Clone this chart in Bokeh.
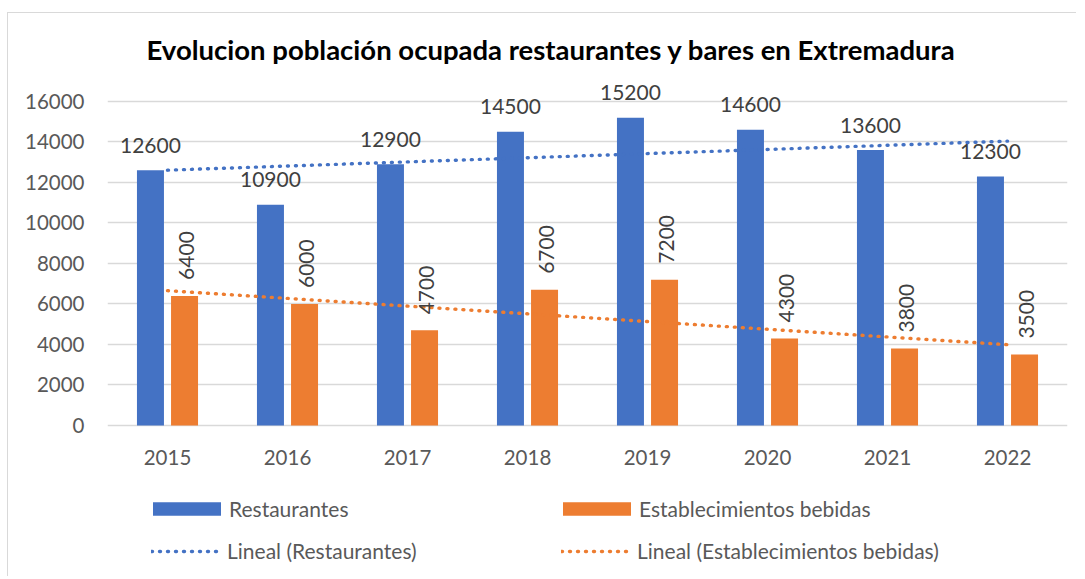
import numpy as np
from bokeh.plotting import figure
from bokeh.models import ColumnDataSource, FactorRange, Legend, LegendItem, FixedTicker
from bokeh.transform import dodge
from bokeh.core.properties import value
from bokeh.embed import file_html
from bokeh.resources import INLINE

years = ["2015", "2016", "2017", "2018", "2019", "2020", "2021", "2022"]
restaurantes = [12600, 10900, 12900, 14500, 15200, 14600, 13600, 12300]
bebidas = [6400, 6000, 4700, 6700, 7200, 4300, 3800, 3500]
y_ticks = [0, 2000, 4000, 6000, 8000, 10000, 12000, 14000, 16000]
title_text = "Evolucion población ocupada restaurantes y bares en Extremadura"
name_r = "Restaurantes"
name_b = "Establecimientos bebidas"

idx = np.arange(len(years))
tr = np.polyval(np.polyfit(idx, restaurantes, 1), idx)
tb = np.polyval(np.polyfit(idx, bebidas, 1), idx)

src = ColumnDataSource(dict(
    years=years, r=restaurantes, b=bebidas,
    rl=[str(v) for v in restaurantes], bl=[str(v) for v in bebidas],
    tr=list(tr), tb=list(tb),
))

FONT = "Lato"
BLUE = "#4472C4"
ORANGE = "#ED7D31"

p = figure(width=1069, height=564, x_range=FactorRange(factors=years),
           y_range=(-7506, 17481), output_backend="svg", toolbar_location=None,
           min_border_left=99, min_border_right=10, min_border_top=58,
           min_border_bottom=0)
p.styles = {"border-left": "1px solid #d9d9d9", "border-top": "1px solid #d9d9d9",
            "margin-top": "12px", "margin-left": "7px"}
p.outline_line_color = None

p.title.text = title_text
p.title.align = "left"
p.title.offset = 39
p.title.text_font = FONT
p.title.text_font_size = "27.5px"
p.title.text_font_style = "bold"
p.title.text_color = "#000000"
p.title.standoff = 12

bar_r = p.vbar(x=dodge("years", -0.142, range=p.x_range), top="r", width=0.225,
               source=src, fill_color=BLUE, line_color=None)
bar_b = p.vbar(x=dodge("years", 0.142, range=p.x_range), top="b", width=0.225,
               source=src, fill_color=ORANGE, line_color=None)
ln_r = p.line(x="years", y="tr", source=src, line_color=BLUE, line_width=3.4,
              line_dash="1 7", line_cap="round")
ln_b = p.line(x="years", y="tb", source=src, line_color=ORANGE, line_width=3.4,
              line_dash="1 7", line_cap="round")

p.text(x=dodge("years", -0.142, range=p.x_range), y="r", text="rl", source=src,
       text_align="center", text_baseline="alphabetic", y_offset=-25,
       text_font=value(FONT), text_font_size="21px", text_color="#404040")
p.text(x=dodge("years", 0.142, range=p.x_range), y="b", text="bl", source=src,
       angle=np.pi / 2, text_align="left", text_baseline="middle", y_offset=-16,
       x_offset=2, text_font=value(FONT), text_font_size="21px", text_color="#404040")

p.xgrid.grid_line_color = None
p.ygrid.grid_line_color = "#d9d9d9"
p.ygrid.grid_line_width = 1.5
p.yaxis.ticker = FixedTicker(ticks=y_ticks)
p.xaxis.fixed_location = 0
for ax in (p.xaxis, p.yaxis):
    ax.axis_line_color = None
    ax.major_tick_line_color = None
    ax.minor_tick_line_color = None
    ax.major_label_text_font = FONT
    ax.major_label_text_font_size = "20.5px"
    ax.major_label_text_color = "#595959"
p.yaxis.major_label_standoff = 17
p.xaxis.major_label_standoff = 19

common = dict(border_line_color=None, background_fill_alpha=0, padding=0, margin=0,
              label_height=20, label_text_font=FONT, label_text_font_size="21px",
              label_text_color="#595959")
bar_style = dict(glyph_width=85, glyph_height=17, label_standoff=0, **common)
line_style = dict(glyph_width=68, glyph_height=14, label_standoff=8, **common)

p.add_layout(Legend(items=[LegendItem(label=name_r, renderers=[bar_r])],
                    location=(37, 56), **bar_style), "center")
p.add_layout(Legend(items=[LegendItem(label=name_b, renderers=[bar_b])],
                    location=(447, 56), **bar_style), "center")
p.add_layout(Legend(items=[LegendItem(label="Lineal (" + name_r + ")", renderers=[ln_r])],
                    location=(44, 14), **line_style), "center")
p.add_layout(Legend(items=[LegendItem(label="Lineal (" + name_b + ")", renderers=[ln_b])],
                    location=(454, 14), **line_style), "center")

open("out.html", "w").write(file_html(p, INLINE))
